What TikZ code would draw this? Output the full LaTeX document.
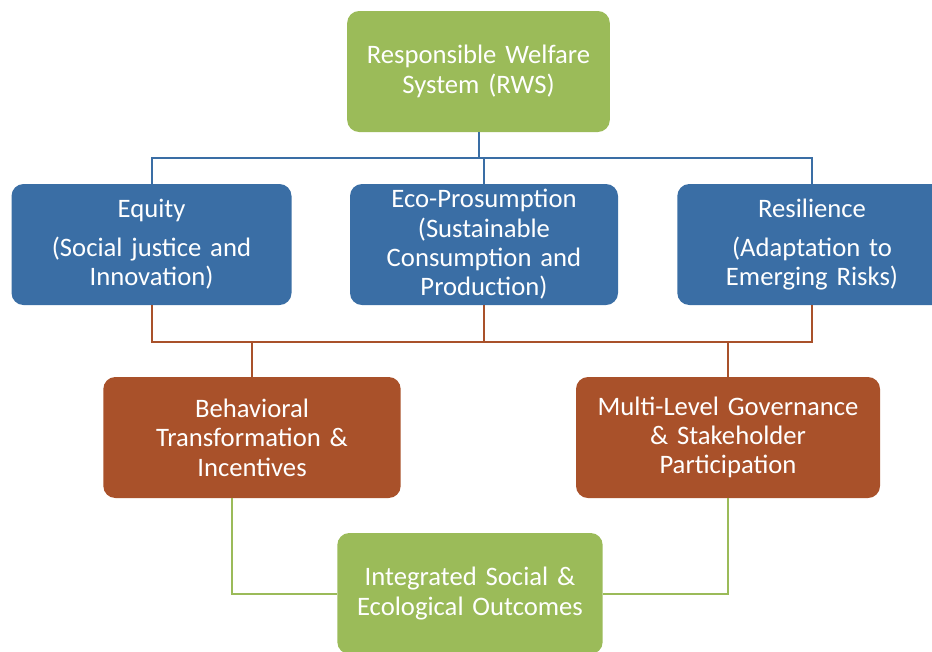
\documentclass[tikz,border=0pt]{standalone}
\usepackage{fontspec}
\setmainfont{Carlito}
\usepackage{xcolor}
\usetikzlibrary{positioning,arrows.meta,calc}

\definecolor{rwsgreen}{HTML}{9BBB59}
\definecolor{pillarblue}{HTML}{3A6EA5}
\definecolor{leverbrown}{HTML}{A9512A}

\begin{document}
\begin{tikzpicture}[
		x=0.75pt,y=-0.75pt,
		box/.style={
			rounded corners=9pt,
			align=center,
			text=white,
			minimum height=90.75pt,
			inner xsep=4pt,
			font=\fontsize{20}{22}\selectfont
		},
		bluelink/.style={draw=pillarblue,line width=1.5pt},
		brownlink/.style={draw=leverbrown,line width=1.5pt},
		greenlink/.style={draw=rwsgreen,line width=1.5pt}
		]
		
		\useasboundingbox (0,0) rectangle (932,651);
		
		% top
		\node[box,fill=rwsgreen,text width=189pt]
		(rws) at (478.5,71.5)
		{Responsible Welfare\\System (RWS)};
		
		% three pillars
		\node[box,fill=pillarblue,text width=202pt]
		(eq) at (151.5,244.5)
		{Equity\\[7pt](Social justice and\\Innovation)};
		
		\node[box,fill=pillarblue,text width=193pt]
		(eco) at (484,244.5)
		{Eco-Prosumption\\(Sustainable\\Consumption and\\Production)};
		
		\node[box,fill=pillarblue,text width=194pt]
		(res) at (812,244.5)
		{Resilience\\[7pt](Adaptation to\\Emerging Risks)};
		
		% levers
		\node[box,fill=leverbrown,text width=215pt]
		(beh) at (252,437.5)
		{Behavioral\\Transformation \&\\Incentives};
		
		\node[box,fill=leverbrown,text width=220pt]
		(mlg) at (728,437.5)
		{Multi-Level Governance\\\& Stakeholder\\Participation};
		
		% outcome
		\node[box,fill=rwsgreen,text width=191pt]
		(out) at (470,593.5)
		{Integrated Social \&\\Ecological Outcomes};
		
		\draw[bluelink] (rws.south) -- ++(0,26) -| (eq.north);
		\draw[bluelink] (rws.south) -- ++(0,26) -| (eco.north);
		\draw[bluelink] (rws.south) -- ++(0,26) -| (res.north);
		
		\draw[brownlink] (eq.south) -- ++(0,37) -| (beh.north);
		\draw[brownlink] (eco.south) -- ++(0,37) -| (beh.north);
		\draw[brownlink] (eco.south) -- ++(0,37) -| (mlg.north);
		\draw[brownlink] (res.south) -- ++(0,37) -| (mlg.north);
		
		\draw[greenlink] ([xshift=-15pt]beh.south) |- (out.west);
		\draw[greenlink] (mlg.south) |- (out.east);
		
	\end{tikzpicture}
\end{document}
